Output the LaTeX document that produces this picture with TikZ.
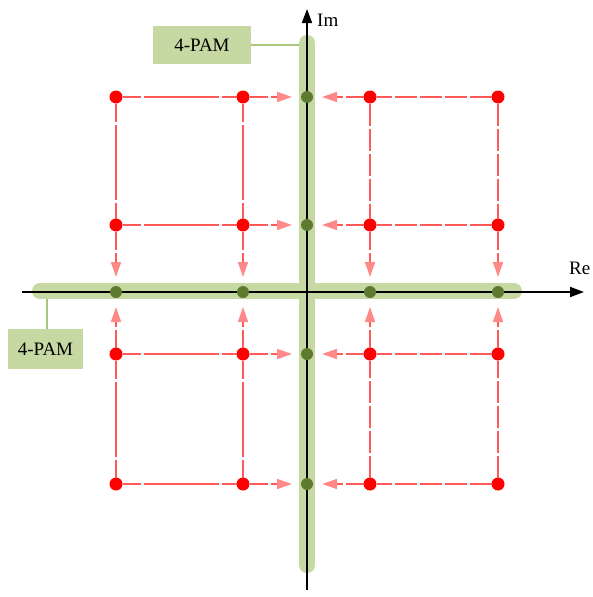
\documentclass[tikz,border=0pt]{standalone}
\usepackage{fontspec}
\setmainfont{Liberation Serif}
\usetikzlibrary{arrows.meta}
\definecolor{band}{HTML}{C6D9A2}
\definecolor{bandline}{HTML}{A9C67A}
\definecolor{gdot}{HTML}{5E7A2F}
\definecolor{rline}{HTML}{FF5A5A}
\definecolor{rhead}{HTML}{FF8888}
\tikzset{
  reddot/.style={circle,fill=red,inner sep=0pt,minimum size=13pt,outer sep=0pt},
  greendot/.style={circle,fill=gdot,inner sep=0pt,minimum size=12pt,outer sep=0pt},
  rl/.style={draw=rline,line width=1.5pt,dash pattern=on 18pt off 3pt on 75pt off 3pt},
  rr/.style={draw=rline,line width=1.5pt,dash pattern=on 22pt off 3pt},
  rarrow/.style={draw=rline,line width=1.5pt,dash pattern=on 18pt off 3pt on 75pt off 3pt,
    -{Triangle[length=15pt,width=10pt,color=rhead,fill=rhead]},shorten >=9pt},
  axis/.style={draw=black,line width=1.6pt,-{Triangle[length=14pt,width=10pt]}},
  bandstyle/.style={draw=band,line width=16pt,line cap=round},
  pamlink/.style={draw=bandline,line width=1.2pt},
  pam/.style={fill=band,minimum width=#1,text=black,inner sep=0pt,font=\fontsize{19}{21}\selectfont},
  lbl/.style={inner sep=0pt,font=\fontsize{19}{21}\selectfont}
}
\begin{document}
\begin{tikzpicture}[x=1pt,y=-1pt]
\useasboundingbox (0,0) rectangle (592,597);
% bands
\coordinate (vb1) at (307,43);
\coordinate (vb2) at (307,565);
\coordinate (hb1) at (40,291);
\coordinate (hb2) at (514,291);
\draw[bandstyle] (vb1) -- (vb2);
\draw[bandstyle] (hb1) -- (hb2);
% axes
\coordinate (xs) at (22,292);
\coordinate (xe) at (584,292);
\coordinate (ys) at (307,590);
\coordinate (ye) at (307,9);
\draw[axis] (xs) -- (xe);
\draw[axis] (ys) -- (ye);
\node[lbl,anchor=west] (re) at (569,268) {Re};
\node[lbl,anchor=west] (im) at (317,20) {Im};
% PAM labels
\node[pam=98pt,minimum height=38pt] (pamtop) at (202,45) {4-PAM};
\node[pam=75pt,minimum height=40pt] (pambot) at (45.5,349) {4-PAM};
\coordinate (ct) at (299,45);
\coordinate (cb) at (47,299);
\draw[pamlink] (pamtop.east) -- (ct);
\draw[pamlink] (pambot.north -| cb) -- (cb);
% green dots
\foreach \n/\y in {1/97,2/225,3/354,4/484} \node[greendot] (gv\n) at (307,\y) {};
\foreach \n/\x in {1/116,2/243,3/370,4/498} \node[greendot] (gh\n) at (\x,292) {};
% red dots
\foreach \i/\x in {1/116,2/243,3/370,4/498}
  \foreach \j/\y in {1/97,2/225,3/354,4/484}
    \node[reddot] (r\i\j) at (\x,\y) {};
% upper left
\draw[rl] (r11) -- (r21); \draw[rarrow] (r21) -- (gv1);
\draw[rl] (r12) -- (r22); \draw[rarrow] (r22) -- (gv2);
\draw[rl] (r11) -- (r12); \draw[rarrow] (r12) -- (gh1);
\draw[rl] (r21) -- (r22); \draw[rarrow] (r22) -- (gh2);
% upper right
\draw[rr] (r41) -- (r31); \draw[rarrow] (r31) -- (gv1);
\draw[rr] (r42) -- (r32); \draw[rarrow] (r32) -- (gv2);
\draw[rr] (r31) -- (r32); \draw[rarrow] (r32) -- (gh3);
\draw[rr] (r41) -- (r42); \draw[rarrow] (r42) -- (gh4);
% lower left
\draw[rl] (r13) -- (r23); \draw[rarrow] (r23) -- (gv3);
\draw[rl] (r14) -- (r24); \draw[rarrow] (r24) -- (gv4);
\draw[rl] (r14) -- (r13); \draw[rarrow] (r13) -- (gh1);
\draw[rl] (r24) -- (r23); \draw[rarrow] (r23) -- (gh2);
% lower right
\draw[rr] (r43) -- (r33); \draw[rarrow] (r33) -- (gv3);
\draw[rr] (r44) -- (r34); \draw[rarrow] (r34) -- (gv4);
\draw[rr] (r34) -- (r33); \draw[rarrow] (r33) -- (gh3);
\draw[rr] (r44) -- (r43); \draw[rarrow] (r43) -- (gh4);
\end{tikzpicture}
\end{document}
